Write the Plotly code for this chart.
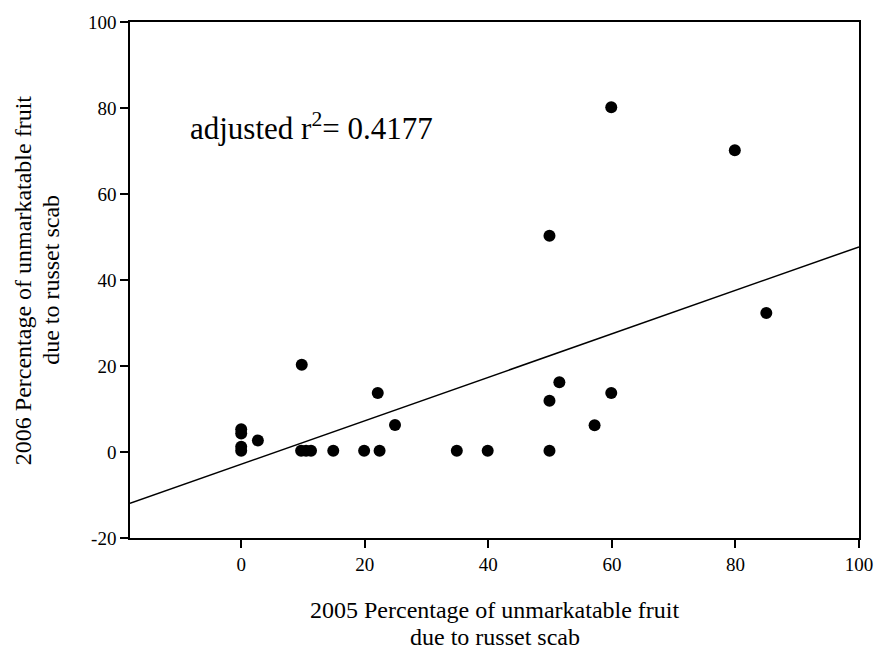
import plotly.graph_objects as go

# Data
x2005 = [0, 0, 0, 0, 2.7, 9.7, 9.8, 10.5, 11.3, 14.9, 19.9, 22.1, 22.4, 24.9,
         34.9, 39.9, 49.9, 49.9, 49.9, 51.5, 57.2, 59.9, 59.9, 79.9, 85.0]
y2006 = [0.3, 1.2, 4.3, 5.3, 2.7, 0.3, 20.3, 0.3, 0.3, 0.3, 0.3, 13.7, 0.3, 6.3,
         0.3, 0.3, 0.3, 11.9, 50.3, 16.2, 6.2, 13.7, 80.2, 70.2, 32.3]

fit_intercept = -2.85
fit_slope = 0.5055

x_range = [-18, 100]
y_range = [-20, 100]
x_ticks = [0, 20, 40, 60, 80, 100]
y_ticks = [-20, 0, 20, 40, 60, 80, 100]
y_tick_labels = ["-20", "0", "20", "40", "60", "80", "100"]
x_tick_labels = ["0", "20", "40", "60", "80", "100"]

FONT = "Liberation Serif"

fig = go.Figure()
line_x = [x_range[0], x_range[1]]
line_y = [fit_intercept + fit_slope * v for v in line_x]
fig.add_trace(go.Scatter(x=line_x, y=line_y, mode="lines",
                         line=dict(color="black", width=1.5),
                         showlegend=False, hoverinfo="skip"))
fig.add_trace(go.Scatter(x=x2005, y=y2006, mode="markers",
                         marker=dict(color="black", size=12),
                         showlegend=False))

W, H = 885, 651
ml, mr, mt, mb = 130, 18, 20, 113
pw = W - ml - mr
ph = H - mt - mb

fig.update_layout(
    width=W, height=H,
    margin=dict(l=ml, r=mr, t=mt, b=mb),
    plot_bgcolor="white", paper_bgcolor="white",
    font=dict(family=FONT, color="black", size=19),
    xaxis=dict(range=x_range, tickvals=x_ticks, ticktext=x_tick_labels,
               showgrid=False, zeroline=False,
               showline=True, linecolor="black", linewidth=1.5, mirror=True,
               ticks="outside", ticklen=8, tickwidth=1.5, tickcolor="black",
               tickfont=dict(size=19, family=FONT)),
    yaxis=dict(range=y_range, tickvals=y_ticks, ticktext=y_tick_labels,
               showgrid=False, zeroline=False,
               showline=True, linecolor="black", linewidth=1.5, mirror=True,
               ticks="outside", ticklen=8, tickwidth=1.5, tickcolor="black",
               tickfont=dict(size=19, family=FONT)),
    annotations=[
        dict(text="adjusted r<sup>2</sup>= 0.4177", x=-8.6, y=75.7, xref="x", yref="y",
             xanchor="left", yanchor="middle", showarrow=False,
             font=dict(size=31, family=FONT)),
        dict(text="2005 Percentage of unmarkatable fruit", xref="paper", yref="paper",
             x=0.5, y=-72 / ph, xanchor="center", yanchor="middle", showarrow=False,
             font=dict(size=24, family=FONT)),
        dict(text="due to russet scab", xref="paper", yref="paper",
             x=0.5, y=-99 / ph, xanchor="center", yanchor="middle", showarrow=False,
             font=dict(size=24, family=FONT)),
        dict(text="2006 Percentage of unmarkatable fruit", xref="paper", yref="paper",
             x=-108 / pw, y=0.5, xanchor="center", yanchor="middle", showarrow=False,
             textangle=-90, font=dict(size=24, family=FONT)),
        dict(text="due to russet scab", xref="paper", yref="paper",
             x=-80 / pw, y=0.5, xanchor="center", yanchor="middle", showarrow=False,
             textangle=-90, font=dict(size=24, family=FONT)),
    ],
)

fig.write_html("out.html")
